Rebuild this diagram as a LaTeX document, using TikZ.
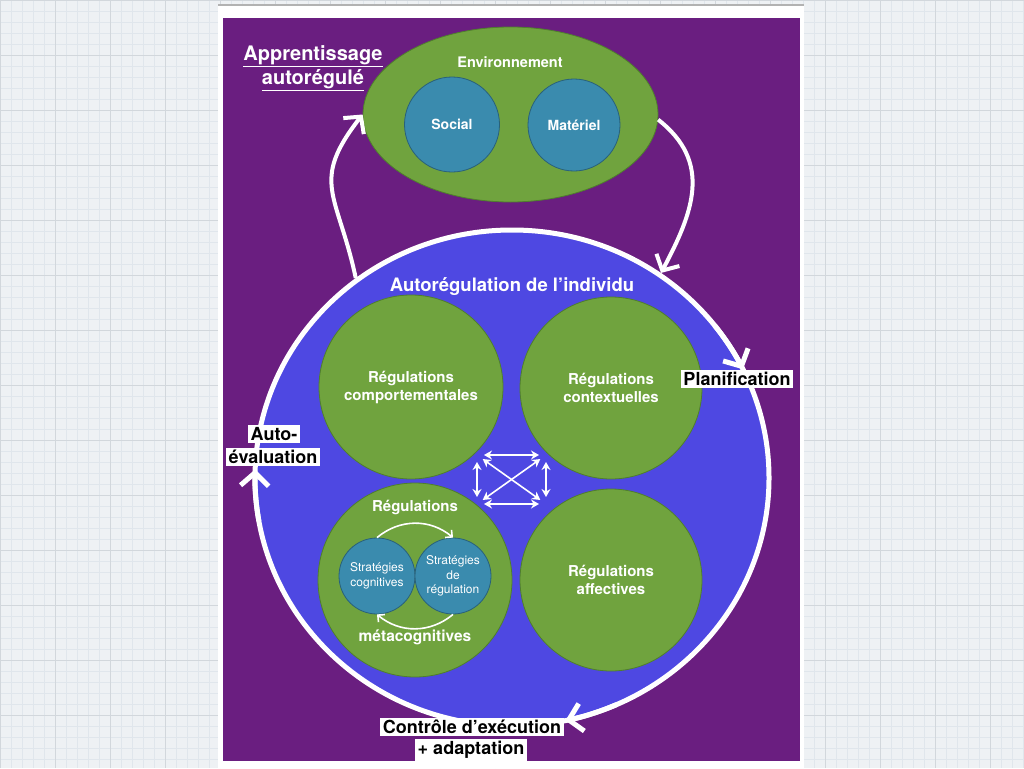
\documentclass[tikz,border=0pt]{standalone}
\usepackage{fontspec}
\setmainfont{TeX Gyre Heros}
\usetikzlibrary{shapes.geometric,arrows.meta}
\definecolor{fond}{HTML}{EEF1F4}
\definecolor{grille}{HTML}{E0E6EC}
\definecolor{pourpre}{HTML}{6A1E80}
\definecolor{bleu}{HTML}{4E48E2}
\definecolor{vert}{HTML}{70A33E}
\definecolor{vertbord}{HTML}{4F7F2C}
\definecolor{turquoise}{HTML}{3A8BAE}

\tikzset{
  bulle/.style={circle,fill=vert,draw=vertbord,line width=0.8pt,inner sep=0pt,text=white,
    font=\bfseries\fontsize{15}{18}\selectfont,align=center},
  petite/.style={circle,fill=turquoise,draw=turquoise!70!black,line width=0.8pt,inner sep=0pt,
    text=white,font=\fontsize{12}{14.5}\selectfont,align=center},
  blanc/.style={text=white,font=\bfseries\fontsize{15}{18}\selectfont,align=center},
  etiq/.style={fill=white,text=black,inner sep=2.5pt,font=\bfseries\fontsize{18}{20}\selectfont},
  boucle/.style={white,line width=4pt,-{Straight Barb[length=12pt,width=26pt]}},
  anneau/.style={white,line width=5pt,-{Straight Barb[length=13pt,width=28pt]}},
  courbe/.style={white,line width=1.6pt,-{Straight Barb[length=5pt,width=10pt]}},
  fleche/.style={white,line width=1.6pt,shorten <=7pt,shorten >=7pt,
    {Stealth[length=8pt,width=9pt]}-{Stealth[length=8pt,width=9pt]}}
}

\begin{document}
\begin{tikzpicture}[x=1pt,y=1pt]
\useasboundingbox (0,0) rectangle (1024,-768);
\fill[fond] (0,0) rectangle (1024,-768);
\draw[grille,line width=0.3pt,step=11pt] (0,0) grid (1024,-768);
\draw[grille!85!gray,line width=0.6pt,step=55pt] (0,0) grid (1024,-768);
\fill[white] (218,-6) rectangle (804,-768);
\draw[gray!60,line width=2pt] (218,-5) -- (804,-5);
\fill[pourpre] (223,-18) rectangle (800,-761);

% environnement
\node[ellipse,fill=vert,draw=vertbord,line width=0.8pt,minimum width=295pt,minimum height=175pt] (env) at (510.5,-114.5) {};
\node[blanc,font=\bfseries\fontsize{14.5}{17}\selectfont] (envtxt) at (510,-62) {Environnement};
\node[petite,minimum size=95pt,font=\bfseries\fontsize{14}{17}\selectfont] (social) at (452,-124.5) {Social};
\node[petite,minimum size=92pt,font=\bfseries\fontsize{14}{17}\selectfont] (materiel) at (574,-125) {Matériel};
\node[blanc,font=\bfseries\fontsize{20}{24}\selectfont] (titre) at (313,-68) {\underline{Apprentissage}\\\underline{autorégulé}};

% individu
\node[ellipse,fill=bleu,draw=white,line width=5pt,inner sep=0pt,minimum width=514pt,minimum height=496pt] (indiv) at (512,-478) {};
\node[blanc,font=\bfseries\fontsize{18.5}{20}\selectfont] (indivtxt) at (512,-287) {Autorégulation de l’individu};

\node[bulle,minimum size=184pt] (comport) at (411,-387) {Régulations\\comportementales};
\node[bulle,minimum size=182pt] (context) at (611,-388) {Régulations\\contextuelles};
\node[bulle,minimum size=182pt] (affect) at (611,-580) {Régulations\\affectives};
\node[bulle,minimum size=194pt] (meta) at (415,-580) {};
\node[blanc] (metahaut) at (415,-507) {Régulations};
\node[blanc,font=\bfseries\fontsize{15.5}{18}\selectfont] (metabas) at (415,-637) {métacognitives};
\node[petite,minimum size=76pt] (cognit) at (377,-576) {Stratégies\\cognitives};
\node[petite,minimum size=76pt] (stratreg) at (453,-576) {Stratégies\\de\\régulation};
\draw[courbe] (cognit.north) to[bend left=40] (stratreg.north);
\draw[courbe] (stratreg.south) to[bend left=40] (cognit.south);

\coordinate (hg) at (477,-455);
\coordinate (hd) at (546,-455);
\coordinate (bg) at (477,-504);
\coordinate (bd) at (546,-504);
\foreach \a/\b in {hg/hd,bg/bd,hg/bg,hd/bd,hg/bd,hd/bg}
  \draw[fleche] (\a) -- (\b);

% cycle
\draw[boucle] (indiv.128) to[out=102,in=232,looseness=1.35] (env.180);
\draw[boucle] (env.-2) to[out=-38,in=62,looseness=1.15] (indiv.54);
\draw[anneau] ([shift={(38:257pt and 248pt)}]indiv.center) arc[start angle=38,end angle=26,x radius=257pt,y radius=248pt];
\draw[anneau] ([shift={(-66:257pt and 248pt)}]indiv.center) arc[start angle=-66,end angle=-78,x radius=257pt,y radius=248pt];
\draw[anneau] ([shift={(190:257pt and 248pt)}]indiv.center) arc[start angle=190,end angle=178,x radius=257pt,y radius=248pt];

\node[etiq] (planif) at (737,-379) {Planification};
\node[etiq] (auto) at (274,-434) {Auto-};
\node[etiq] (evaluation) at (273,-457) {évaluation};
\node[etiq] (controle) at (472,-727) {Contrôle d’exécution};
\node[etiq] (adapt) at (471,-750) {+ adaptation};
\end{tikzpicture}
\end{document}
